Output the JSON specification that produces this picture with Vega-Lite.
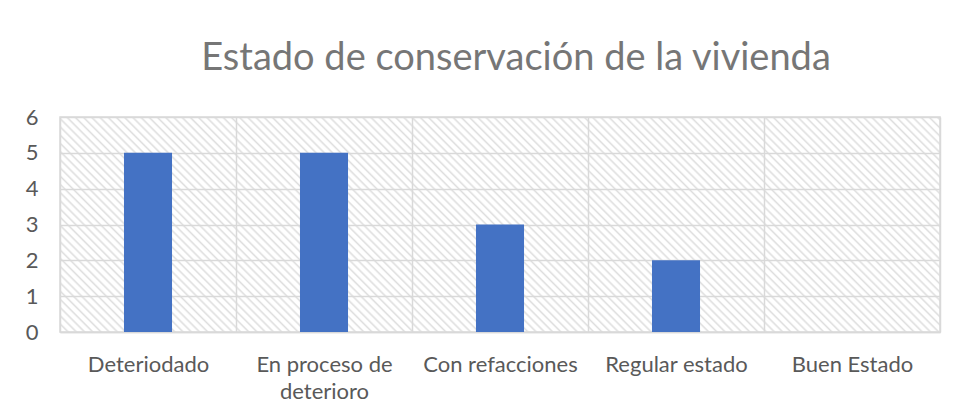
{
"$schema": "https://vega.github.io/schema/vega-lite/v6.json",
"width": 880,
"height": 215,
"autosize": {"type": "none"},
"padding": {"left": 60, "top": 117, "right": 15, "bottom": 83},
"background": "#ffffff",
"title": {"text": "Estado de conservación de la vivienda", "font": "Lato", "fontSize": 38, "fontWeight": "normal", "color": "#767676", "anchor": "middle", "frame": "group", "baseline": "alphabetic", "offset": 37, "dx": 16, "dy": 39},
"data": {"values": [
{"estado": "Deteriodado", "valor": 5},
{"estado": "En proceso de deterioro", "valor": 5},
{"estado": "Con refacciones", "valor": 3},
{"estado": "Regular estado", "valor": 2},
{"estado": "Buen Estado", "valor": 0}
]},
"mark": {"type": "bar", "color": "#4472C4", "width": {"band": 0.273}},
"encoding": {
"x": {"field": "estado", "type": "nominal", "sort": null, "scale": {"paddingInner": 0, "paddingOuter": 0},
"axis": {"title": null, "tickBand": "extent", "grid": true, "ticks": false, "labelAngle": 0, "labelFont": "Lato", "labelFontSize": 22, "labelColor": "#595959", "labelPadding": 39, "labelBaseline": "alphabetic", "labelLineHeight": 27, "labelOverlap": false, "labelLimit": 0, "labelExpr": "datum.value == 'En proceso de deterioro' ? ['En proceso de', 'deterioro'] : datum.value", "domainColor": "#d9d9d9", "domainWidth": 1.5, "gridColor": "#d9d9d9", "gridWidth": 1.5}},
"y": {"field": "valor", "type": "quantitative", "scale": {"domain": [0, 6]},
"axis": {"title": null, "values": [0, 1, 2, 3, 4, 5, 6], "ticks": false, "domain": false, "labelFont": "Lato", "labelFontSize": 22, "labelColor": "#595959", "labelPadding": 22, "gridColor": "#d9d9d9", "gridWidth": 1.5}}
},
"config": {"view": {"stroke": "#d9d9d9", "strokeWidth": 1.5, "fill": {"gradient": "linear", "x1": 0, "y1": 1, "x2": 1.17423, "y2": 0.71311, "stops": [
{"offset":0,"color":"#dedede"},{"offset":0.002,"color":"#fff"},{"offset":0.0055,"color":"#fff"},
{"offset":0.0075,"color":"#dedede"},{"offset":0.0095,"color":"#fff"},{"offset":0.013,"color":"#fff"},
{"offset":0.015,"color":"#dedede"},{"offset":0.017,"color":"#fff"},{"offset":0.0205,"color":"#fff"},
{"offset":0.0225,"color":"#dedede"},{"offset":0.0245,"color":"#fff"},{"offset":0.028,"color":"#fff"},
{"offset":0.03,"color":"#dedede"},{"offset":0.032,"color":"#fff"},{"offset":0.0355,"color":"#fff"},
{"offset":0.0375,"color":"#dedede"},{"offset":0.0395,"color":"#fff"},{"offset":0.043,"color":"#fff"},
{"offset":0.045,"color":"#dedede"},{"offset":0.047,"color":"#fff"},{"offset":0.0505,"color":"#fff"},
{"offset":0.0525,"color":"#dedede"},{"offset":0.0545,"color":"#fff"},{"offset":0.058,"color":"#fff"},
{"offset":0.06,"color":"#dedede"},{"offset":0.062,"color":"#fff"},{"offset":0.0655,"color":"#fff"},
{"offset":0.0675,"color":"#dedede"},{"offset":0.0695,"color":"#fff"},{"offset":0.073,"color":"#fff"},
{"offset":0.075,"color":"#dedede"},{"offset":0.077,"color":"#fff"},{"offset":0.0805,"color":"#fff"},
{"offset":0.0825,"color":"#dedede"},{"offset":0.0845,"color":"#fff"},{"offset":0.088,"color":"#fff"},
{"offset":0.09,"color":"#dedede"},{"offset":0.092,"color":"#fff"},{"offset":0.0955,"color":"#fff"},
{"offset":0.0975,"color":"#dedede"},{"offset":0.0995,"color":"#fff"},{"offset":0.103,"color":"#fff"},
{"offset":0.105,"color":"#dedede"},{"offset":0.107,"color":"#fff"},{"offset":0.1105,"color":"#fff"},
{"offset":0.1125,"color":"#dedede"},{"offset":0.1145,"color":"#fff"},{"offset":0.118,"color":"#fff"},
{"offset":0.12,"color":"#dedede"},{"offset":0.122,"color":"#fff"},{"offset":0.1255,"color":"#fff"},
{"offset":0.1275,"color":"#dedede"},{"offset":0.1295,"color":"#fff"},{"offset":0.133,"color":"#fff"},
{"offset":0.135,"color":"#dedede"},{"offset":0.137,"color":"#fff"},{"offset":0.1405,"color":"#fff"},
{"offset":0.1425,"color":"#dedede"},{"offset":0.1445,"color":"#fff"},{"offset":0.148,"color":"#fff"},
{"offset":0.15,"color":"#dedede"},{"offset":0.152,"color":"#fff"},{"offset":0.1555,"color":"#fff"},
{"offset":0.1575,"color":"#dedede"},{"offset":0.1595,"color":"#fff"},{"offset":0.163,"color":"#fff"},
{"offset":0.165,"color":"#dedede"},{"offset":0.167,"color":"#fff"},{"offset":0.1705,"color":"#fff"},
{"offset":0.1725,"color":"#dedede"},{"offset":0.1745,"color":"#fff"},{"offset":0.178,"color":"#fff"},
{"offset":0.18,"color":"#dedede"},{"offset":0.182,"color":"#fff"},{"offset":0.1855,"color":"#fff"},
{"offset":0.1875,"color":"#dedede"},{"offset":0.1895,"color":"#fff"},{"offset":0.193,"color":"#fff"},
{"offset":0.195,"color":"#dedede"},{"offset":0.197,"color":"#fff"},{"offset":0.2005,"color":"#fff"},
{"offset":0.2025,"color":"#dedede"},{"offset":0.2045,"color":"#fff"},{"offset":0.208,"color":"#fff"},
{"offset":0.21,"color":"#dedede"},{"offset":0.212,"color":"#fff"},{"offset":0.2155,"color":"#fff"},
{"offset":0.2175,"color":"#dedede"},{"offset":0.2195,"color":"#fff"},{"offset":0.223,"color":"#fff"},
{"offset":0.225,"color":"#dedede"},{"offset":0.227,"color":"#fff"},{"offset":0.2305,"color":"#fff"},
{"offset":0.2325,"color":"#dedede"},{"offset":0.2345,"color":"#fff"},{"offset":0.238,"color":"#fff"},
{"offset":0.24,"color":"#dedede"},{"offset":0.242,"color":"#fff"},{"offset":0.2455,"color":"#fff"},
{"offset":0.2475,"color":"#dedede"},{"offset":0.2495,"color":"#fff"},{"offset":0.253,"color":"#fff"},
{"offset":0.255,"color":"#dedede"},{"offset":0.257,"color":"#fff"},{"offset":0.2605,"color":"#fff"},
{"offset":0.2625,"color":"#dedede"},{"offset":0.2645,"color":"#fff"},{"offset":0.268,"color":"#fff"},
{"offset":0.27,"color":"#dedede"},{"offset":0.272,"color":"#fff"},{"offset":0.2755,"color":"#fff"},
{"offset":0.2775,"color":"#dedede"},{"offset":0.2795,"color":"#fff"},{"offset":0.283,"color":"#fff"},
{"offset":0.285,"color":"#dedede"},{"offset":0.287,"color":"#fff"},{"offset":0.2905,"color":"#fff"},
{"offset":0.2925,"color":"#dedede"},{"offset":0.2945,"color":"#fff"},{"offset":0.298,"color":"#fff"},
{"offset":0.3,"color":"#dedede"},{"offset":0.302,"color":"#fff"},{"offset":0.3055,"color":"#fff"},
{"offset":0.3075,"color":"#dedede"},{"offset":0.3095,"color":"#fff"},{"offset":0.313,"color":"#fff"},
{"offset":0.315,"color":"#dedede"},{"offset":0.317,"color":"#fff"},{"offset":0.3205,"color":"#fff"},
{"offset":0.3225,"color":"#dedede"},{"offset":0.3245,"color":"#fff"},{"offset":0.328,"color":"#fff"},
{"offset":0.33,"color":"#dedede"},{"offset":0.332,"color":"#fff"},{"offset":0.3355,"color":"#fff"},
{"offset":0.3375,"color":"#dedede"},{"offset":0.3395,"color":"#fff"},{"offset":0.343,"color":"#fff"},
{"offset":0.345,"color":"#dedede"},{"offset":0.347,"color":"#fff"},{"offset":0.3505,"color":"#fff"},
{"offset":0.3525,"color":"#dedede"},{"offset":0.3545,"color":"#fff"},{"offset":0.358,"color":"#fff"},
{"offset":0.36,"color":"#dedede"},{"offset":0.362,"color":"#fff"},{"offset":0.3655,"color":"#fff"},
{"offset":0.3675,"color":"#dedede"},{"offset":0.3695,"color":"#fff"},{"offset":0.373,"color":"#fff"},
{"offset":0.375,"color":"#dedede"},{"offset":0.377,"color":"#fff"},{"offset":0.3805,"color":"#fff"},
{"offset":0.3825,"color":"#dedede"},{"offset":0.3845,"color":"#fff"},{"offset":0.388,"color":"#fff"},
{"offset":0.39,"color":"#dedede"},{"offset":0.392,"color":"#fff"},{"offset":0.3955,"color":"#fff"},
{"offset":0.3975,"color":"#dedede"},{"offset":0.3995,"color":"#fff"},{"offset":0.403,"color":"#fff"},
{"offset":0.405,"color":"#dedede"},{"offset":0.407,"color":"#fff"},{"offset":0.4105,"color":"#fff"},
{"offset":0.4125,"color":"#dedede"},{"offset":0.4145,"color":"#fff"},{"offset":0.418,"color":"#fff"},
{"offset":0.42,"color":"#dedede"},{"offset":0.422,"color":"#fff"},{"offset":0.4255,"color":"#fff"},
{"offset":0.4275,"color":"#dedede"},{"offset":0.4295,"color":"#fff"},{"offset":0.433,"color":"#fff"},
{"offset":0.435,"color":"#dedede"},{"offset":0.437,"color":"#fff"},{"offset":0.4405,"color":"#fff"},
{"offset":0.4425,"color":"#dedede"},{"offset":0.4445,"color":"#fff"},{"offset":0.448,"color":"#fff"},
{"offset":0.45,"color":"#dedede"},{"offset":0.452,"color":"#fff"},{"offset":0.4555,"color":"#fff"},
{"offset":0.4575,"color":"#dedede"},{"offset":0.4595,"color":"#fff"},{"offset":0.463,"color":"#fff"},
{"offset":0.465,"color":"#dedede"},{"offset":0.467,"color":"#fff"},{"offset":0.4705,"color":"#fff"},
{"offset":0.4725,"color":"#dedede"},{"offset":0.4745,"color":"#fff"},{"offset":0.478,"color":"#fff"},
{"offset":0.48,"color":"#dedede"},{"offset":0.482,"color":"#fff"},{"offset":0.4855,"color":"#fff"},
{"offset":0.4875,"color":"#dedede"},{"offset":0.4895,"color":"#fff"},{"offset":0.493,"color":"#fff"},
{"offset":0.495,"color":"#dedede"},{"offset":0.497,"color":"#fff"},{"offset":0.5005,"color":"#fff"},
{"offset":0.5025,"color":"#dedede"},{"offset":0.5045,"color":"#fff"},{"offset":0.508,"color":"#fff"},
{"offset":0.51,"color":"#dedede"},{"offset":0.512,"color":"#fff"},{"offset":0.5155,"color":"#fff"},
{"offset":0.5175,"color":"#dedede"},{"offset":0.5195,"color":"#fff"},{"offset":0.523,"color":"#fff"},
{"offset":0.525,"color":"#dedede"},{"offset":0.527,"color":"#fff"},{"offset":0.5305,"color":"#fff"},
{"offset":0.5325,"color":"#dedede"},{"offset":0.5345,"color":"#fff"},{"offset":0.538,"color":"#fff"},
{"offset":0.54,"color":"#dedede"},{"offset":0.542,"color":"#fff"},{"offset":0.5455,"color":"#fff"},
{"offset":0.5475,"color":"#dedede"},{"offset":0.5495,"color":"#fff"},{"offset":0.553,"color":"#fff"},
{"offset":0.555,"color":"#dedede"},{"offset":0.557,"color":"#fff"},{"offset":0.5605,"color":"#fff"},
{"offset":0.5625,"color":"#dedede"},{"offset":0.5645,"color":"#fff"},{"offset":0.568,"color":"#fff"},
{"offset":0.57,"color":"#dedede"},{"offset":0.572,"color":"#fff"},{"offset":0.5755,"color":"#fff"},
{"offset":0.5775,"color":"#dedede"},{"offset":0.5795,"color":"#fff"},{"offset":0.583,"color":"#fff"},
{"offset":0.585,"color":"#dedede"},{"offset":0.587,"color":"#fff"},{"offset":0.5905,"color":"#fff"},
{"offset":0.5925,"color":"#dedede"},{"offset":0.5945,"color":"#fff"},{"offset":0.598,"color":"#fff"},
{"offset":0.6,"color":"#dedede"},{"offset":0.602,"color":"#fff"},{"offset":0.6055,"color":"#fff"},
{"offset":0.6075,"color":"#dedede"},{"offset":0.6095,"color":"#fff"},{"offset":0.613,"color":"#fff"},
{"offset":0.615,"color":"#dedede"},{"offset":0.617,"color":"#fff"},{"offset":0.6205,"color":"#fff"},
{"offset":0.6225,"color":"#dedede"},{"offset":0.6245,"color":"#fff"},{"offset":0.628,"color":"#fff"},
{"offset":0.63,"color":"#dedede"},{"offset":0.632,"color":"#fff"},{"offset":0.6355,"color":"#fff"},
{"offset":0.6375,"color":"#dedede"},{"offset":0.6395,"color":"#fff"},{"offset":0.643,"color":"#fff"},
{"offset":0.645,"color":"#dedede"},{"offset":0.647,"color":"#fff"},{"offset":0.6505,"color":"#fff"},
{"offset":0.6525,"color":"#dedede"},{"offset":0.6545,"color":"#fff"},{"offset":0.658,"color":"#fff"},
{"offset":0.66,"color":"#dedede"},{"offset":0.662,"color":"#fff"},{"offset":0.6655,"color":"#fff"},
{"offset":0.6675,"color":"#dedede"},{"offset":0.6695,"color":"#fff"},{"offset":0.673,"color":"#fff"},
{"offset":0.675,"color":"#dedede"},{"offset":0.677,"color":"#fff"},{"offset":0.6805,"color":"#fff"},
{"offset":0.6825,"color":"#dedede"},{"offset":0.6845,"color":"#fff"},{"offset":0.688,"color":"#fff"},
{"offset":0.69,"color":"#dedede"},{"offset":0.692,"color":"#fff"},{"offset":0.6955,"color":"#fff"},
{"offset":0.6975,"color":"#dedede"},{"offset":0.6995,"color":"#fff"},{"offset":0.703,"color":"#fff"},
{"offset":0.705,"color":"#dedede"},{"offset":0.707,"color":"#fff"},{"offset":0.7105,"color":"#fff"},
{"offset":0.7125,"color":"#dedede"},{"offset":0.7145,"color":"#fff"},{"offset":0.718,"color":"#fff"},
{"offset":0.72,"color":"#dedede"},{"offset":0.722,"color":"#fff"},{"offset":0.7255,"color":"#fff"},
{"offset":0.7275,"color":"#dedede"},{"offset":0.7295,"color":"#fff"},{"offset":0.733,"color":"#fff"},
{"offset":0.735,"color":"#dedede"},{"offset":0.737,"color":"#fff"},{"offset":0.7405,"color":"#fff"},
{"offset":0.7425,"color":"#dedede"},{"offset":0.7445,"color":"#fff"},{"offset":0.748,"color":"#fff"},
{"offset":0.75,"color":"#dedede"},{"offset":0.752,"color":"#fff"},{"offset":0.7555,"color":"#fff"},
{"offset":0.7575,"color":"#dedede"},{"offset":0.7595,"color":"#fff"},{"offset":0.763,"color":"#fff"},
{"offset":0.765,"color":"#dedede"},{"offset":0.767,"color":"#fff"},{"offset":0.7705,"color":"#fff"},
{"offset":0.7725,"color":"#dedede"},{"offset":0.7745,"color":"#fff"},{"offset":0.778,"color":"#fff"},
{"offset":0.78,"color":"#dedede"},{"offset":0.782,"color":"#fff"},{"offset":0.7855,"color":"#fff"},
{"offset":0.7875,"color":"#dedede"},{"offset":0.7895,"color":"#fff"},{"offset":0.793,"color":"#fff"},
{"offset":0.795,"color":"#dedede"},{"offset":0.797,"color":"#fff"},{"offset":0.8005,"color":"#fff"},
{"offset":0.8025,"color":"#dedede"},{"offset":0.8045,"color":"#fff"},{"offset":0.808,"color":"#fff"},
{"offset":0.81,"color":"#dedede"},{"offset":0.812,"color":"#fff"},{"offset":0.8155,"color":"#fff"},
{"offset":0.8175,"color":"#dedede"},{"offset":0.8195,"color":"#fff"},{"offset":0.823,"color":"#fff"},
{"offset":0.825,"color":"#dedede"},{"offset":0.827,"color":"#fff"},{"offset":0.8305,"color":"#fff"},
{"offset":0.8325,"color":"#dedede"},{"offset":0.8345,"color":"#fff"},{"offset":0.838,"color":"#fff"},
{"offset":0.84,"color":"#dedede"},{"offset":0.842,"color":"#fff"},{"offset":0.8455,"color":"#fff"},
{"offset":0.8475,"color":"#dedede"},{"offset":0.8495,"color":"#fff"},{"offset":0.853,"color":"#fff"},
{"offset":0.855,"color":"#dedede"},{"offset":0.857,"color":"#fff"},{"offset":0.8605,"color":"#fff"},
{"offset":0.8625,"color":"#dedede"},{"offset":0.8645,"color":"#fff"},{"offset":0.868,"color":"#fff"},
{"offset":0.87,"color":"#dedede"},{"offset":0.872,"color":"#fff"},{"offset":0.8755,"color":"#fff"},
{"offset":0.8775,"color":"#dedede"},{"offset":0.8795,"color":"#fff"},{"offset":0.883,"color":"#fff"},
{"offset":0.885,"color":"#dedede"},{"offset":0.887,"color":"#fff"},{"offset":0.8905,"color":"#fff"},
{"offset":0.8925,"color":"#dedede"},{"offset":0.8945,"color":"#fff"},{"offset":0.898,"color":"#fff"},
{"offset":0.9,"color":"#dedede"},{"offset":0.902,"color":"#fff"},{"offset":0.9055,"color":"#fff"},
{"offset":0.9075,"color":"#dedede"},{"offset":0.9095,"color":"#fff"},{"offset":0.913,"color":"#fff"},
{"offset":0.915,"color":"#dedede"},{"offset":0.917,"color":"#fff"},{"offset":0.9205,"color":"#fff"},
{"offset":0.9225,"color":"#dedede"},{"offset":0.9245,"color":"#fff"},{"offset":0.928,"color":"#fff"},
{"offset":0.93,"color":"#dedede"},{"offset":0.932,"color":"#fff"},{"offset":0.9355,"color":"#fff"},
{"offset":0.9375,"color":"#dedede"},{"offset":0.9395,"color":"#fff"},{"offset":0.943,"color":"#fff"},
{"offset":0.945,"color":"#dedede"},{"offset":0.947,"color":"#fff"},{"offset":0.9505,"color":"#fff"},
{"offset":0.9525,"color":"#dedede"},{"offset":0.9545,"color":"#fff"},{"offset":0.958,"color":"#fff"},
{"offset":0.96,"color":"#dedede"},{"offset":0.962,"color":"#fff"},{"offset":0.9655,"color":"#fff"},
{"offset":0.9675,"color":"#dedede"},{"offset":0.9695,"color":"#fff"},{"offset":0.973,"color":"#fff"},
{"offset":0.975,"color":"#dedede"},{"offset":0.977,"color":"#fff"},{"offset":0.9805,"color":"#fff"},
{"offset":0.9825,"color":"#dedede"},{"offset":0.9845,"color":"#fff"},{"offset":0.988,"color":"#fff"},
{"offset":0.99,"color":"#dedede"},{"offset":0.992,"color":"#fff"},{"offset":0.9955,"color":"#fff"},
{"offset":0.9975,"color":"#dedede"},{"offset":0.9995,"color":"#fff"},{"offset":1,"color":"#fff"}
]}}}
}
